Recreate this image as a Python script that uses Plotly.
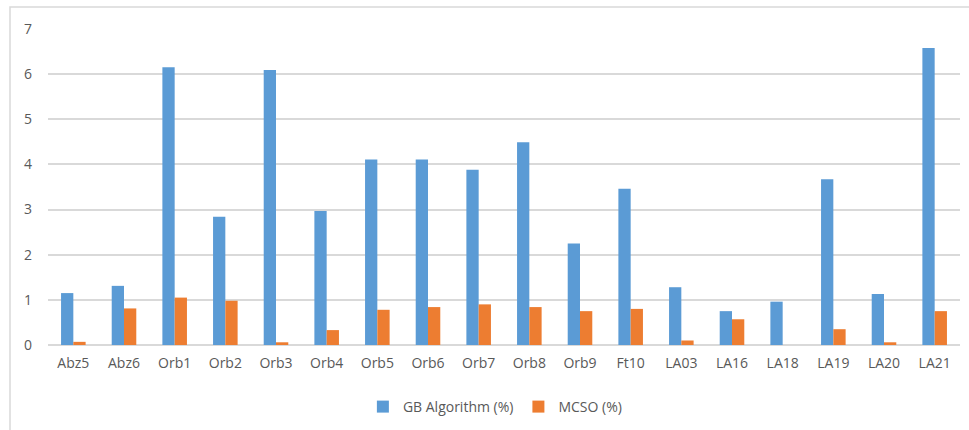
import plotly.graph_objects as go

categories = ["Abz5", "Abz6", "Orb1", "Orb2", "Orb3", "Orb4", "Orb5", "Orb6", "Orb7",
              "Orb8", "Orb9", "Ft10", "LA03", "LA16", "LA18", "LA19", "LA20", "LA21"]
gb_values = [1.15, 1.31, 6.15, 2.84, 6.09, 2.97, 4.11, 4.11, 3.88,
             4.49, 2.25, 3.46, 1.28, 0.75, 0.96, 3.67, 1.13, 6.58]
mcso_values = [0.07, 0.81, 1.05, 0.98, 0.06, 0.33, 0.78, 0.84, 0.90,
               0.84, 0.75, 0.80, 0.10, 0.57, 0.0, 0.35, 0.06, 0.75]
y_ticks = [0, 1, 2, 3, 4, 5, 6, 7]

W, H = 969, 430
L, R, T, B = 48, 9, 29, 85
pw, ph = W - L - R, H - T - B

fig = go.Figure()
fig.add_trace(go.Bar(x=categories, y=gb_values, name="GB Algorithm (%)",
                     marker=dict(color="#5B9BD5", line=dict(width=0))))
fig.add_trace(go.Bar(x=categories, y=mcso_values, name="MCSO (%)",
                     marker=dict(color="#ED7D31", line=dict(width=0))))

font = dict(family="Open Sans, Liberation Sans, sans-serif", size=14, color="#595959")

fig.update_layout(
    width=W, height=H,
    margin=dict(l=L, r=R, t=T, b=B, autoexpand=False),
    paper_bgcolor="white", plot_bgcolor="white",
    barmode="group", bargap=0.515, bargroupgap=0,
    font=font,
    showlegend=True,
    legend=dict(orientation="h", x=0.49, xanchor="center",
                y=(345 - 407) / ph, yanchor="middle",
                font=dict(family=font["family"], size=14, color="#595959"),
                itemwidth=30, traceorder="normal"),
    xaxis=dict(showgrid=False, showline=False, ticks="", tickfont=font,
               ticklabelstandoff=8, automargin=False),
    yaxis=dict(range=[0, 7], tickvals=y_ticks, showgrid=True, gridcolor="#D9D9D9",
               gridwidth=1.5, zeroline=True, zerolinecolor="#D9D9D9", zerolinewidth=1.5,
               showline=False, ticks="", tickfont=font, ticklabelstandoff=15,
               automargin=False),
    shapes=[dict(type="rect", xref="paper", yref="paper",
                 x0=(10 - L) / pw, x1=(970 - L) / pw,
                 y0=-0.4, y1=(H - B - 7) / ph,
                 line=dict(color="#D9D9D9", width=1.5), fillcolor="rgba(0,0,0,0)",
                 layer="below")],
)

fig.write_html("out.html", post_script="document.body.style.margin='0';",
               config={"displayModeBar": False})
